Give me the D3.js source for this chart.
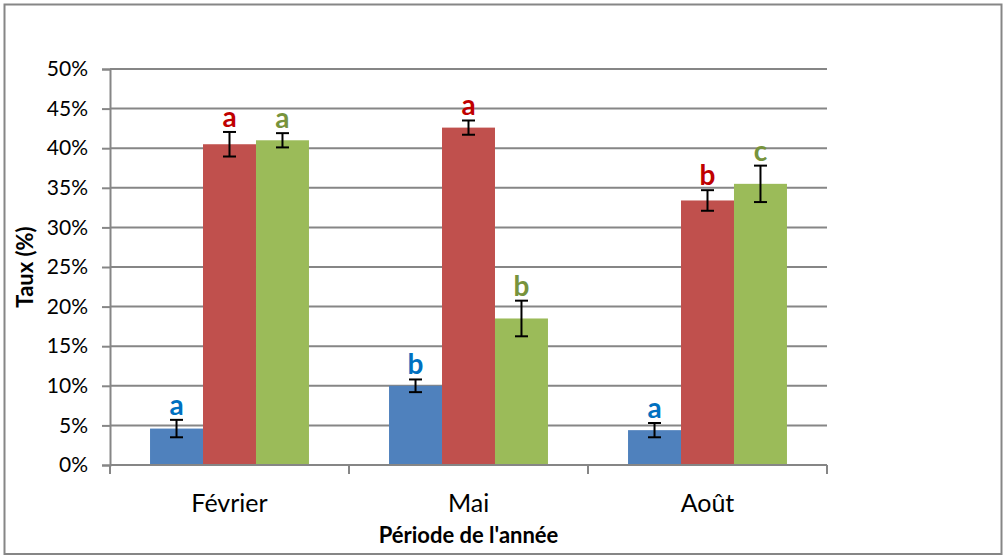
<!DOCTYPE html>
<html><head><meta charset="utf-8">
<script src="https://cdn.jsdelivr.net/npm/d3@7"></script>
<style>body{margin:0;background:#fff}svg{display:block}</style>
</head><body>
<script>
const categories = ["Février", "Mai", "Août"];
const seriesNames = ["S1", "S2", "S3"];
const values = [
  [4.6, 40.5, 41.0],
  [10.0, 42.6, 18.5],
  [4.4, 33.4, 35.5]
];
const errors = [
  [1.1, 1.55, 0.9],
  [0.8, 0.9, 2.25],
  [0.9, 1.3, 2.3]
];
const letters = [
  ["a", "a", "a"],
  ["b", "a", "b"],
  ["a", "b", "c"]
];
const yTicks = [0, 5, 10, 15, 20, 25, 30, 35, 40, 45, 50];
const barColors = ["#4F81BD", "#C0504D", "#9BBB59"];
const letterColors = ["#0070C0", "#C00000", "#77933C"];

const W = 1008, H = 560;
const svg = d3.select("body").append("svg").attr("width", W).attr("height", H);
const font = "Lato, 'Open Sans', sans-serif";

svg.append("rect").attr("x", 4.5).attr("y", 4.5).attr("width", 997).attr("height", 549.5)
  .attr("fill", "#fff").attr("stroke", "#868686").attr("stroke-width", 2);

const pL = 110, pR = 827, pT = 69, pB = 465;
const y = d3.scaleLinear().domain([0, 50]).range([pB, pT]);
const x0 = d3.scaleBand().domain(categories).range([pL, pR]).paddingInner(0.335).paddingOuter(0.1675);
const x1 = d3.scaleBand().domain(seriesNames).range([0, x0.bandwidth()]).padding(0);

// gridlines
svg.append("g").selectAll("line").data(yTicks.filter(d => d > 0)).join("line")
  .attr("x1", pL).attr("x2", pR).attr("y1", d => y(d)).attr("y2", d => y(d))
  .attr("stroke", "#868686").attr("stroke-width", 2);

// y axis
const yAxis = svg.append("g").attr("transform", `translate(${pL},0)`)
  .call(d3.axisLeft(y).tickValues(yTicks).tickFormat(d => d + "%").tickSize(8).tickPadding(14));
yAxis.select(".domain").attr("stroke", "#868686").attr("stroke-width", 2);
yAxis.selectAll(".tick line").attr("stroke", "#868686").attr("stroke-width", 2);
yAxis.selectAll(".tick text").attr("font-family", font).attr("font-size", 21).attr("fill", "#000");

// bars
const groups = svg.append("g").selectAll("g").data(categories).join("g")
  .attr("transform", d => `translate(${x0(d)},0)`);
groups.each(function(cat, ci) {
  const g = d3.select(this);
  seriesNames.forEach((s, si) => {
    const v = values[ci][si], e = errors[ci][si];
    const cx = x1(s) + x1.bandwidth() / 2;
    g.append("rect").attr("x", x1(s)).attr("width", x1.bandwidth())
      .attr("y", y(v)).attr("height", y(0) - y(v)).attr("fill", barColors[si]);
    const eg = g.append("g").attr("stroke", "#000").attr("stroke-width", 2);
    eg.append("line").attr("x1", cx).attr("x2", cx).attr("y1", y(v + e)).attr("y2", y(v - e));
    eg.append("line").attr("x1", cx - 6.5).attr("x2", cx + 6.5).attr("y1", y(v + e)).attr("y2", y(v + e));
    eg.append("line").attr("x1", cx - 6.5).attr("x2", cx + 6.5).attr("y1", y(v - e)).attr("y2", y(v - e));
    g.append("text").attr("x", cx).attr("y", y(v + e) - 5).attr("text-anchor", "middle")
      .attr("font-family", font).attr("font-weight", "bold").attr("font-size", 28)
      .attr("fill", letterColors[si]).text(letters[ci][si]);
  });
});

// x axis
const xAxis = svg.append("g").attr("transform", `translate(0,${pB})`)
  .call(d3.axisBottom(x0).tickSize(0).tickPadding(29));
xAxis.select(".domain").remove();
svg.append("line").attr("x1", pL).attr("x2", pR).attr("y1", pB).attr("y2", pB)
  .attr("stroke", "#868686").attr("stroke-width", 2);
const step = x0.step();
svg.append("g").selectAll("line").data(d3.range(categories.length + 1)).join("line")
  .attr("x1", i => pL + i * step).attr("x2", i => pL + i * step)
  .attr("y1", pB).attr("y2", pB + 9).attr("stroke", "#868686").attr("stroke-width", 2);
xAxis.selectAll(".tick text").attr("font-family", font).attr("font-size", 25).attr("fill", "#000")
  .attr("dy", "0.71em");

// axis titles
svg.append("text").attr("x", (pL + pR) / 2).attr("y", 543).attr("text-anchor", "middle")
  .attr("font-family", font).attr("font-weight", "bold").attr("font-size", 22).text("Période de l'année");
svg.append("text").attr("transform", `translate(33,${(pT + pB) / 2}) rotate(-90)`)
  .attr("text-anchor", "middle").attr("font-family", font).attr("font-weight", "bold")
  .attr("font-size", 22).text("Taux (%)");
</script>
</body></html>
